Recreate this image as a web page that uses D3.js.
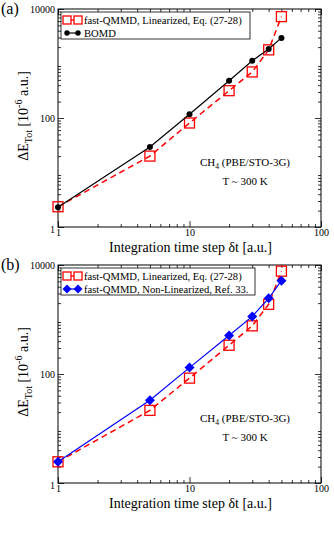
<!DOCTYPE html>
<html>
<head>
<meta charset="utf-8">
<script src="https://cdn.jsdelivr.net/npm/d3@7"></script>
<style>
body { margin: 0; background: #fff; }
svg text { font-family: "Liberation Serif", "Times New Roman", serif !important; fill: #000; }
</style>
</head>
<body>
<div id="chart"></div>
<script>
var steps = [1, 5, 10, 20, 30, 40, 50];
var linA = [2.35, 20, 81, 317, 700, 1780, 7250];
var bomd = [2.3, 29.5, 117, 483, 1120, 1850, 2950];
var linB = [2.45, 21.5, 84, 337, 765, 1900, 7700];
var nonLin = [2.45, 33, 131, 509, 1140, 2450, 5150];
var xTicks = [1, 10, 100];
var yTicks = [1, 100, 10000];

var width = 334, height = 542;
var svg = d3.select("#chart").append("svg")
    .attr("width", width)
    .attr("height", height);

function panel(top, label, series, legendW) {
    var left = 58, right = 321, bottom = top + 218;
    var x = d3.scaleLog().domain([1, 100]).range([left, right]);
    var y = d3.scaleLog().domain([1, 10000]).range([bottom, top]);
    var g = svg.append("g");

    // minor ticks on all sides
    var xMinor = [], yMinor = [];
    for (var d = 1; d < 100; d *= 10)
        for (var k = 2; k <= 9; k++) xMinor.push(d * k);
    for (var d2 = 1; d2 < 10000; d2 *= 10)
        for (var k2 = 2; k2 <= 9; k2++) yMinor.push(d2 * k2);

    g.append("g").attr("transform", "translate(0," + bottom + ")")
        .call(d3.axisBottom(x).tickValues(xMinor).tickSize(-3).tickFormat(""));
    g.append("g").attr("transform", "translate(0," + top + ")")
        .call(d3.axisTop(x).tickValues(xMinor).tickSize(-3).tickFormat(""));
    g.append("g").attr("transform", "translate(" + left + ",0)")
        .call(d3.axisLeft(y).tickValues(yMinor).tickSize(-3).tickFormat(""));
    g.append("g").attr("transform", "translate(" + right + ",0)")
        .call(d3.axisRight(y).tickValues(yMinor).tickSize(-3).tickFormat(""));

    var xb = g.append("g").attr("transform", "translate(0," + bottom + ")")
        .call(d3.axisBottom(x).tickValues(xTicks).tickSize(-6).tickPadding(3).tickFormat(d3.format("d")));
    g.append("g").attr("transform", "translate(0," + top + ")")
        .call(d3.axisTop(x).tickValues(xTicks).tickSize(-6).tickFormat(""));
    var yl = g.append("g").attr("transform", "translate(" + left + ",0)")
        .call(d3.axisLeft(y).tickValues(yTicks).tickSize(-6).tickPadding(3).tickFormat(d3.format("d")));
    g.append("g").attr("transform", "translate(" + right + ",0)")
        .call(d3.axisRight(y).tickValues(yTicks).tickSize(-6).tickFormat(""));

    g.selectAll(".domain").remove();
    g.selectAll("g").attr("font-family", null);
    g.selectAll(".tick line").attr("stroke", "#000").attr("stroke-width", 0.8);
    g.selectAll(".tick text").style("font-size", "10px");
    yl.selectAll(".tick text").attr("dy", "0.32em");
    yl.selectAll(".tick").filter(function(d) { return d === 1; }).select("text").attr("dy", "0.55em");
    xb.selectAll(".tick text").attr("dy", "0.6em");

    g.append("rect")
        .attr("x", left).attr("y", top)
        .attr("width", right - left).attr("height", bottom - top)
        .attr("fill", "none").attr("stroke", "#000").attr("stroke-width", 1);

    var line = d3.line()
        .x(function(d) { return x(d[0]); })
        .y(function(d) { return y(d[1]); });

    series.forEach(function(s) {
        var pts = steps.map(function(t, i) { return [t, s.values[i]]; });
        g.append("path").datum(pts)
            .attr("d", line)
            .attr("fill", "none")
            .attr("stroke", s.color)
            .attr("stroke-width", s.dash ? 1.5 : 1.2)
            .attr("stroke-dasharray", s.dash ? "6,4" : null);
        drawMarkers(g, pts.map(function(p) { return [x(p[0]), y(p[1])]; }), s, false);
    });

    // legend
    var lg = g.append("g");
    lg.append("rect")
        .attr("x", 61).attr("y", top + 3)
        .attr("width", legendW).attr("height", 27)
        .attr("fill", "#fff").attr("stroke", "#000").attr("stroke-width", 0.8);
    series.forEach(function(s, i) {
        var yy = top + 11 + i * 13;
        lg.append("line")
            .attr("x1", 67).attr("x2", 78).attr("y1", yy).attr("y2", yy)
            .attr("stroke", s.color).attr("stroke-width", 1.2);
        drawMarkers(lg, [[67, yy], [78, yy]], s, true);
        lg.append("text")
            .attr("x", 84).attr("y", yy + 3.5)
            .style("font-size", "10.6px")
            .text(s.label);
    });

    var ann = g.append("text")
        .attr("x", 245).attr("y", top + 157)
        .attr("text-anchor", "middle")
        .style("font-size", "11px");
    ann.append("tspan").text("CH");
    ann.append("tspan").attr("dy", 3).style("font-size", "7.5px").text("4");
    ann.append("tspan").attr("dy", -3).text(" (PBE/STO-3G)");
    g.append("text")
        .attr("x", 245).attr("y", top + 176)
        .attr("text-anchor", "middle")
        .style("font-size", "11px")
        .text("T ~ 300 K");

    g.append("text")
        .attr("x", (left + right) / 2 + 1).attr("y", bottom + 25)
        .attr("text-anchor", "middle")
        .style("font-size", "14px")
        .text("Integration time step \u03b4t [a.u.]");

    var yt = g.append("text")
        .attr("transform", "translate(28," + (top + 107) + ") rotate(-90)")
        .attr("text-anchor", "middle")
        .style("font-size", "14px");
    yt.append("tspan").text("\u0394E");
    yt.append("tspan").attr("dy", 4).style("font-size", "10px").text("Tot");
    yt.append("tspan").attr("dy", -4).text(" [10");
    yt.append("tspan").attr("dy", -6).style("font-size", "10px").text("-6");
    yt.append("tspan").attr("dy", 6).text(" a.u.]");

    svg.append("text")
        .attr("x", 1).attr("y", top + 5)
        .style("font-size", "16px")
        .text(label);
}

function drawMarkers(g, pts, s, small) {
    if (s.marker === "square") {
        var sz = small ? 8 : 10;
        g.selectAll(null).data(pts).enter().append("rect")
            .attr("x", function(p) { return p[0] - sz / 2; })
            .attr("y", function(p) { return p[1] - sz / 2; })
            .attr("width", sz).attr("height", sz)
            .attr("fill", small ? "#fff" : "none")
            .attr("stroke", s.color).attr("stroke-width", 1.3);
    } else if (s.marker === "circle") {
        g.selectAll(null).data(pts).enter().append("circle")
            .attr("cx", function(p) { return p[0]; })
            .attr("cy", function(p) { return p[1]; })
            .attr("r", small ? 2.7 : 3)
            .attr("fill", s.color);
    } else {
        var r = small ? 4.5 : 5;
        g.selectAll(null).data(pts).enter().append("path")
            .attr("d", function(p) {
                return "M" + p[0] + "," + (p[1] - r) + "L" + (p[0] + r) + "," + p[1] +
                    "L" + p[0] + "," + (p[1] + r) + "L" + (p[0] - r) + "," + p[1] + "Z";
            })
            .attr("fill", s.color);
    }
}

var red = "#ff0000", blue = "#0000ff";
panel(9, "(a)", [
    { values: linA, color: red, marker: "square", dash: true, label: "fast-QMMD, Linearized, Eq. (27-28)" },
    { values: bomd, color: "#000", marker: "circle", dash: false, label: "BOMD" }
], 189);
panel(265, "(b)", [
    { values: linB, color: red, marker: "square", dash: true, label: "fast-QMMD, Linearized, Eq. (27-28)" },
    { values: nonLin, color: blue, marker: "diamond", dash: false, label: "fast-QMMD, Non-Linearized, Ref. 33." }
], 194);
</script>
</body>
</html>
